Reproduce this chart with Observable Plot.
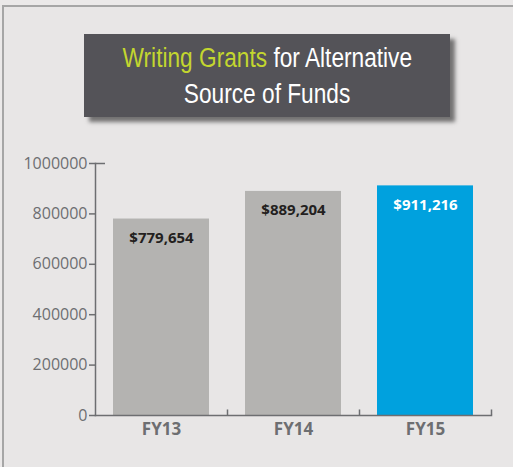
<!DOCTYPE html>
<html>
<head>
<meta charset="utf-8">
<script src="https://cdn.jsdelivr.net/npm/d3@7"></script>
<script src="https://cdn.jsdelivr.net/npm/@observablehq/plot@0.6"></script>
<style>
  html, body { margin: 0; padding: 0; background: #ebe9e9; }
  #panel {
    position: relative;
    margin: 5px 0 0 2px;
    width: 511px; height: 462px;
    box-sizing: border-box;
    border-left: 2px solid #a6a6a6;
    border-top: 2px solid #a6a6a6;
    background: #e8e6e6;
    overflow: hidden;
  }
  #title {
    position: absolute;
    left: 80px; top: 27px;
    width: 366px; height: 83px;
    background: #545358;
    box-shadow: 5px 5px 4px rgba(0,0,0,0.5);
    color: #ffffff;
    font-family: "Liberation Sans", Arial, sans-serif;
    font-size: 27px;
    line-height: 36px;
    text-align: center;
    display: flex; flex-direction: column; justify-content: center; align-items: center;
  }
  #title > div { transform: scaleX(0.84); white-space: nowrap; }
  #title .hl { color: #c3d62f; }
  #chart { position: absolute; left: 0; top: 0; }
</style>
</head>
<body>
<div id="panel">
  <div id="chart"></div>
  <div id="title"><div><span class="hl">Writing Grants</span> for Alternative</div><div>Source of Funds</div></div>
</div>
<script>
const categories = ["FY13", "FY14", "FY15"];
const values = [779654, 889204, 911216];
const yTicks = [0, 200000, 400000, 600000, 800000, 1000000];
const highlighted = "FY15";

const data = categories.map((c, i) => ({category: c, value: values[i]}));

const W = 509, H = 460;
const mL = 91, mR = 22, mT = 156, mB = 52;
const step = (W - mL - mR) / categories.length;
const axisColor = "#6d6e71";
const font = "'Open Sans', sans-serif";

const chart = Plot.plot({
  width: W, height: H,
  marginLeft: mL, marginRight: mR, marginTop: mT, marginBottom: mB,
  style: {background: "transparent", fontFamily: font, overflow: "visible"},
  x: {domain: categories, paddingInner: 0.273, paddingOuter: 0.136, label: null},
  y: {domain: [0, 1000000], label: null},
  marks: [
    Plot.barY(data, {
      x: "category", y: "value",
      fill: d => d.category === highlighted ? "#00a1de" : "#b4b3b1"
    }),
    Plot.text(data, {
      x: "category", y: "value",
      text: d => d3.format("$,")(d.value),
      dy: 19, lineAnchor: "middle",
      fontSize: 15, fontWeight: "bold",
      fill: d => d.category === highlighted ? "#ffffff" : "#231f20"
    }),
    Plot.frame({anchor: "left", stroke: axisColor, strokeWidth: 1.5}),
    Plot.frame({anchor: "bottom", stroke: axisColor, strokeWidth: 1.5}),
    Plot.ruleX(categories, {x: d => d, dx: step / 2, y1: 0, y2: 22000, stroke: axisColor, strokeWidth: 1.5}),
    Plot.axisY({
      ticks: yTicks, tickFormat: d3.format("d"), tickSize: 6, tickPadding: 2,
      stroke: axisColor, strokeWidth: 1.5, fill: axisColor, fontSize: 16, label: null
    }),
    Plot.axisY({
      ticks: [1000000], tickFormat: () => "", tickSize: -10,
      stroke: axisColor, strokeWidth: 1.5, label: null
    }),
    Plot.axisX({
      tickSize: 0, tickPadding: 7, fill: axisColor, fontSize: 17, fontWeight: "bold", label: null
    })
  ]
});
document.getElementById("chart").appendChild(chart);
</script>
</body>
</html>
